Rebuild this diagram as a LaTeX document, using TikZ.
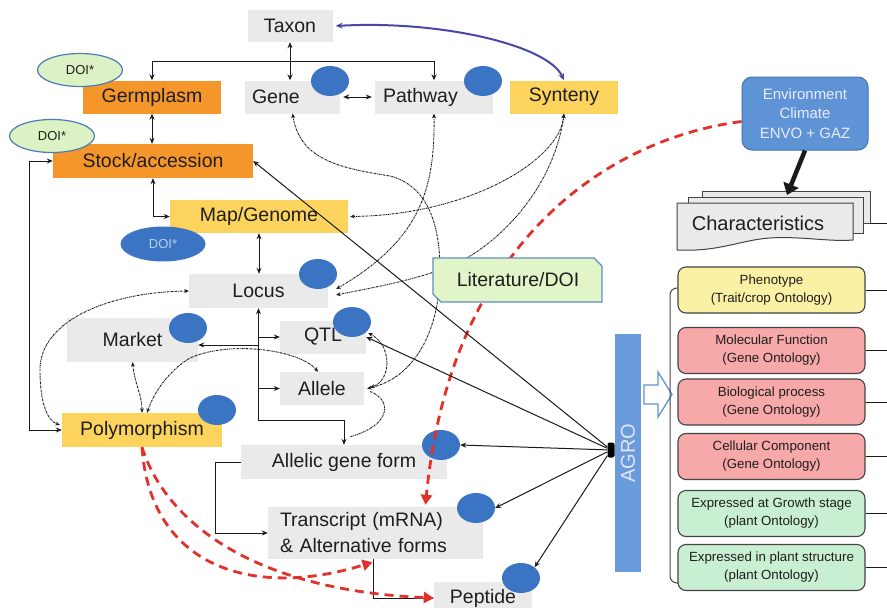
\documentclass[tikz,border=0pt]{standalone}
\usepackage{fontspec}
\setmainfont{Liberation Sans}
\usetikzlibrary{arrows.meta,shapes.geometric}
\definecolor{boxgray}{HTML}{EAEAEA}
\definecolor{orangeC}{HTML}{F5962B}
\definecolor{yellowC}{HTML}{FCD35C}
\definecolor{blueE}{HTML}{3B74C2}
\definecolor{doiFill}{HTML}{DCF2C4}
\definecolor{doiDraw}{HTML}{4B7DB8}
\definecolor{doiText}{HTML}{B9D0F0}
\definecolor{litFill}{HTML}{E2F5C9}
\definecolor{litDraw}{HTML}{5B8FC7}
\definecolor{envFill}{HTML}{5E94D6}
\definecolor{envDraw}{HTML}{3F74B5}
\definecolor{agroC}{HTML}{6A9BDA}
\definecolor{phenC}{HTML}{FBF1A4}
\definecolor{pinkC}{HTML}{F7A8A8}
\definecolor{greenC}{HTML}{C9EFD2}
\definecolor{redC}{HTML}{E2302B}
\definecolor{arcC}{HTML}{4848A8}
\definecolor{txt}{HTML}{1E1E1E}
\definecolor{lineC}{HTML}{1A1A1A}
\definecolor{pageDraw}{HTML}{444444}
\begin{document}
\begin{tikzpicture}[x=1pt,y=-1pt,
  lbl/.style={font=\fontsize{19.5}{26}\selectfont, text=txt},
  gbox/.style={lbl, rectangle, fill=boxgray, inner sep=0pt},
  obox/.style={gbox, fill=orangeC},
  ybox/.style={gbox, fill=yellowC},
  bell/.style={ellipse, fill=blueE, minimum width=38pt, minimum height=30pt, inner sep=0pt},
  doil/.style={ellipse, fill=doiFill, draw=doiDraw, line width=1.2pt, minimum width=85pt, minimum height=33pt, inner sep=0pt, font=\fontsize{13}{15}\selectfont, text=txt},
  arr/.style={draw=lineC, line width=1pt, -{Stealth[length=6pt,width=5pt]}},
  arrb/.style={draw=lineC, line width=1pt, {Stealth[length=6pt,width=5pt]}-{Stealth[length=6pt,width=5pt]}},
  dd/.style={draw=lineC, line width=0.9pt, dash pattern=on 2pt off 0.8pt on 0.7pt off 0.8pt},
  ddb/.style={dd, {Stealth[length=4.5pt,width=4pt]}-{Stealth[length=4.5pt,width=4pt]}},
  reddash/.style={draw=redC, line width=2.8pt, dash pattern=on 9pt off 6pt, -{Triangle[length=10pt,width=11pt]}},
  onto/.style={rectangle, rounded corners=8pt, draw=pageDraw, line width=1.1pt, minimum width=187pt, minimum height=46pt, inner sep=0pt, align=center, font=\fontsize{13.3}{18}\selectfont, text=txt},
  page/.style={fill=boxgray, draw=pageDraw, line width=1pt},
]
\useasboundingbox (0,0) rectangle (887,608);
\fill[white] (0,0) rectangle (887,608);

% ---------- main boxes ----------
\node[gbox, minimum width=85pt, minimum height=32pt] (taxon) at (290,26) {Taxon};
\node[obox, minimum width=138pt, minimum height=33pt] (germ) at (152,97) {Germplasm};
\node[gbox, minimum height=33pt, text width=81pt, inner xsep=7pt, align=left] (gene) at (292.5,97) {Gene};
\node[gbox, minimum height=33pt, text width=102pt, inner xsep=8pt, align=left] (path) at (434,97) {Pathway};
\node[ybox, minimum width=108pt, minimum height=33pt] (syn) at (564,97) {Synteny};
\node[obox, minimum width=200pt, minimum height=34pt] (stock) at (153,161) {Stock/accession};
\node[ybox, minimum width=178pt, minimum height=33pt] (map) at (259,216.5) {Map/Genome};
\node[gbox, minimum width=139pt, minimum height=34pt] (locus) at (258.5,291) {Locus};
\node[gbox, minimum width=131pt, minimum height=44pt] (market) at (132.5,340) {Market};
\node[gbox, minimum width=86pt, minimum height=33pt] (qtl) at (323,337) {QTL};
\node[gbox, minimum width=84pt, minimum height=33pt] (allele) at (322,388.5) {Allele};
\node[ybox, minimum width=160pt, minimum height=34pt] (poly) at (142,430) {Polymorphism};
\node[gbox, minimum width=206pt, minimum height=34pt] (allelic) at (344,462) {Allelic gene form};
\node[gbox, minimum height=52pt, text width=191pt, inner xsep=12pt, align=left] (trans) at (375.5,533) {Transcript (mRNA)\\\& Alternative forms};
\node[gbox, minimum width=98pt, minimum height=32pt] (pep) at (483,598) {Peptide};

% ---------- blue ellipses ----------
\node[bell] (egene) at (330,81) {};
\node[bell] (epath) at (483,81) {};
\node[bell] (elocus) at (318,274) {};
\node[bell] (emarket) at (188,328) {};
\node[bell] (eqtl) at (352,322) {};
\node[bell] (epoly) at (217,410) {};
\node[bell] (eallelic) at (441,445) {};
\node[bell] (etrans) at (476,508) {};
\node[bell] (epep) at (521,578) {};

% ---------- DOI ellipses ----------
\node[doil] (doi1) at (80,70) {DOI*};
\node[doil] (doi2) at (52,136) {DOI*};
\node[doil, fill=blueE, draw=none, text=doiText, minimum height=35pt] (doi3) at (163,244) {DOI*};

% ---------- environment ----------
\node[rectangle, rounded corners=10pt, fill=envFill, draw=envDraw, line width=1pt, minimum width=126pt, minimum height=73pt, inner sep=0pt, align=center, font=\fontsize{15}{19.5}\selectfont, text=white!92!blue] (env) at (805,113.5) {Environment\\Climate\\ENVO + GAZ};

% ---------- solid black connectors ----------
\coordinate (tj) at (290,61);
\draw[arrb] (taxon.south) -- (taxon.south |- gene.north);
\draw[arr] (tj) -| (germ.north);
\draw[arr] (tj) -| (path.north);
\draw[arrb, shorten <=3pt, shorten >=3pt] (gene.east) -- (path.west);
\draw[arrb] (germ.south) -- (germ.south |- stock.north);
\draw[arrb] (stock.south) |- (map.west);
\draw[arrb] (map.south) -- (map.south |- locus.north);
\draw[arrb] (stock.west) -- ++(-23,0) |- (poly.west);
\draw[arrb] (locus.south) -- ++(0,112) -| (allelic.north);
\draw[arr] (locus.south |- qtl.west) -- (qtl.west);
\draw[arr] (locus.south |- allele.west) -- (allele.west);
\draw[arr] (locus.south |- 0,345) -- (market.east |- 0,345);
\draw[arr] (allelic.west) -- ++(-25,0) |- (trans.west);
\draw[arr] (trans.south -| 373,0) |- (pep.west);

% ---------- dotted connectors ----------
\draw[ddb] (gene.south) .. controls (300,160) and (340,168) .. (390,176) .. controls (425,185) and (440,220) .. (440,270) .. controls (440,330) and (415,378) .. ([xshift=3pt]allele.east);
\draw[ddb] (path.south) .. controls (435,190) and (420,240) .. ([xshift=8pt,yshift=2pt]locus.east);
\draw[ddb] (syn.south) .. controls (560,160) and (470,215) .. ([xshift=2pt]map.east);
\draw[ddb] (syn.south) .. controls (555,180) and (510,235) .. (460,262) .. controls (420,280) and (370,288) .. ([xshift=8pt,yshift=-4pt]locus.east);
\draw[ddb] ([xshift=2pt,yshift=4pt]qtl.east) .. controls (392,345) and (392,380) .. ([xshift=6pt,yshift=1pt]allele.east);
\draw[dd] ([xshift=6pt,yshift=-3pt]allele.east) .. controls (392,400) and (392,425) .. ([xshift=6pt,yshift=8pt]allelic.north);
\draw[ddb] (locus.west) .. controls (110,292) and (40,320) .. (40,370) .. controls (40,400) and (46,420) .. ([xshift=-2pt,yshift=5pt]poly.west);
\draw[ddb] (market.south) .. controls (135,385) and (142,395) .. (poly.north);
\draw[ddb] ([xshift=-4pt]allele.north) .. controls (300,350) and (230,340) .. (190,358) .. controls (170,370) and (155,390) .. ([xshift=5pt]poly.north);

% ---------- blue arc ----------
\draw[draw=arcC, line width=2pt, {Stealth[length=7pt,width=6pt]}-{Stealth[length=7pt,width=6pt]}] ([xshift=3pt]taxon.east) .. controls (440,20) and (548,45) .. (syn.north);

% ---------- red dashed ----------
\draw[reddash] ([yshift=-8pt]env.west) .. controls (600,140) and (450,250) .. ([xshift=50pt,yshift=2pt]trans.north);
\draw[reddash] (poly.south) .. controls (150,565) and (250,600) .. ([xshift=-3pt,yshift=-3pt]trans.south);
\draw[reddash] (poly.south) .. controls (165,520) and (250,590) .. (pep.west);

% ---------- Literature/DOI ----------
\filldraw[fill=litFill, draw=litDraw, line width=1.2pt] (433,258) -- (594,258) -- (602,266) -- (602,302) -- (441,302) -- (433,294) -- cycle;
\node[lbl] (lit) at (518,280) {Literature/DOI};

% ---------- Characteristics ----------
\filldraw[page] (702,191) -- (870,191) -- (870,223) -- (702,223) -- cycle;
\filldraw[page] (688,197) -- (863,197) -- (863,233) -- (688,233) -- cycle;
\filldraw[page] (677,203) -- (853,203) -- (853,240) .. controls (830,242) and (800,236) .. (770,238) .. controls (740,240) and (720,252) .. (677,250) -- cycle;
\node[font=\fontsize{20}{24}\selectfont, text=txt] (char) at (758,223) {Characteristics};
\coordinate (charR) at (870,223);
\coordinate (edgeR) at (887,223);
\draw[line width=1pt, lineC] (charR) -- (edgeR);
\coordinate (chartop) at (787,195);
\draw[line width=4.5pt, lineC, -{Triangle[length=11pt,width=16pt]}] (env.south) -- (chartop);

% ---------- AGRO ----------
\node[rotate=90, fill=agroC, minimum width=238pt, minimum height=26pt, inner sep=0pt, font=\fontsize{20}{22}\selectfont, text=white!90!blue] (agro) at (628,453) {AGRO};
\node[fill=black, minimum width=7pt, minimum height=15pt, inner sep=0pt, rounded corners=2pt] (hub) at (611,450) {};
\draw[arr] (hub) -- (stock.east);
\draw[arr] (hub) -- (qtl.east);
\draw[arr] (hub) -- (eallelic.east);
\draw[arr] (hub) -- (etrans.east);
\draw[arr] (hub) -- (epep.north east);

% hollow arrow
\filldraw[fill=white, draw=envFill, line width=1.3pt] (644,385) -- (658,385) -- (658,372) -- (672,394.5) -- (658,417) -- (658,404) -- (644,404) -- cycle;

% bracket
\draw[line width=1pt, pageDraw, rounded corners=7pt] (679,288) -- (670,288) -- (670,583) -- (679,583);

% ---------- ontology boxes ----------
\node[onto, fill=phenC] (ph) at (771.5,290) {Phenotype\\(Trait/crop Ontology)};
\node[onto, fill=pinkC] (mf) at (771.5,350.5) {Molecular Function\\(Gene Ontology)};
\node[onto, fill=pinkC] (bp) at (771.5,402) {Biological process\\(Gene Ontology)};
\node[onto, fill=pinkC] (cc) at (771.5,456.5) {Cellular Component\\(Gene Ontology)};
\node[onto, fill=greenC] (gs) at (771.5,513.5) {Expressed at Growth stage\\(plant Ontology)};
\node[onto, fill=greenC] (ps) at (771.5,567.5) {Expressed in plant structure\\(plant Ontology)};
\foreach \n in {ph,mf,bp,cc,gs,ps} \draw[line width=1pt, lineC] (\n.east) -- ++(22,0);
\end{tikzpicture}
\end{document}
